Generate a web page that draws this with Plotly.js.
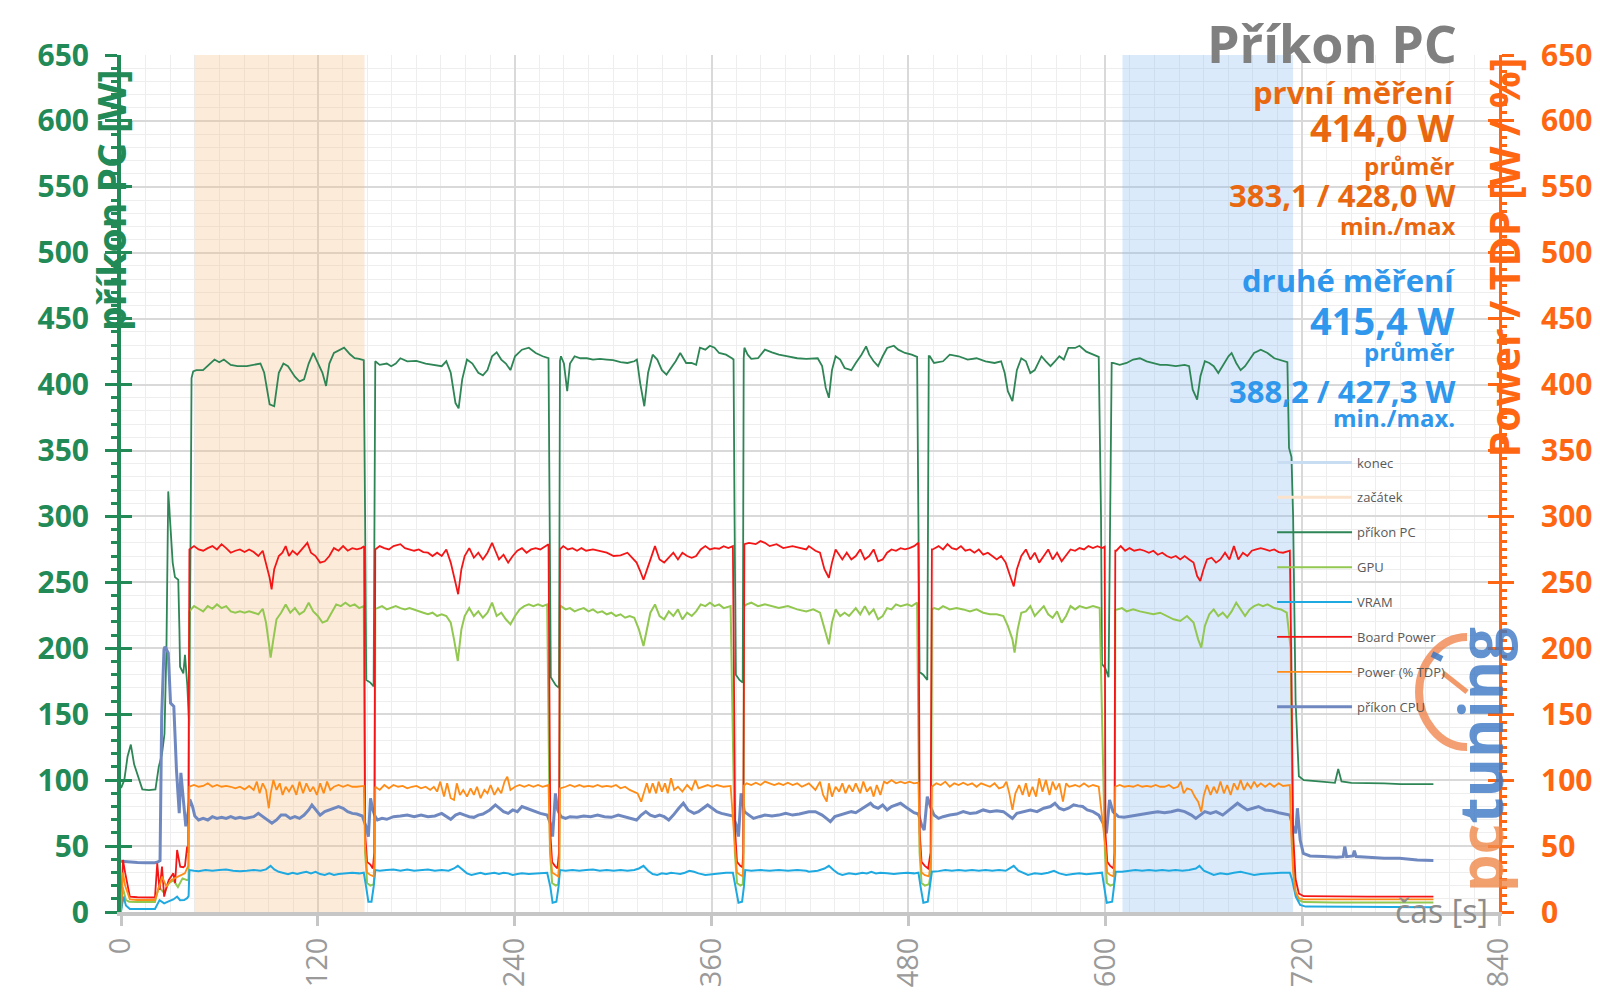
<!DOCTYPE html>
<html>
<head>
<meta charset="utf-8">
<script src="https://cdn.plot.ly/plotly-3.0.1.min.js"></script>
<style>
  body { margin: 0; background: #fff; }
  #chart { width: 1600px; height: 1008px; }
</style>
</head>
<body>
<div id="chart"></div>
<script>
// axis ranges / ticks
var xRange = [0, 840];
var yRange = [0, 650];

// shaded measurement windows [start, end] in s
var zacatek = [45, 148.5];
var konec = [610.5, 714.5];

// series as [time s, value W]
var prikonPC = [[0,94],[2,100],[4,118],[6,127],[8,112],[11,100],[13,93],[17,92.5],[21,93],[23,110],[25,120],[26.5,135],[27.7,200],[28.8,319],[30.2,290],[31.5,265],[32.9,254],[34.9,252],[35.6,215],[36,186],[38,181],[39,195],[40.4,172],[41.6,141],[42.5,300],[43,405],[44,410],[45.9,411],[50,411],[54.3,416],[57,419],[59.9,417],[62.7,419],[66.9,415],[71,414],[76.7,414],[85,416],[87.3,409],[90.6,385],[93.4,383.6],[96.2,409],[99,416],[101.8,414],[106,406],[108.8,402.5],[111.6,404],[114.4,416],[117.2,424],[120,416],[122.8,409],[125,399],[127,416],[129.8,424],[132.6,426],[136,428],[139.6,423],[142.4,420],[145.2,419.5],[148,418.5],
  [148.8,300],[149.5,176],[152,174],[154,171],[155,417.7],
  [157.7,415],[162,416],[164.7,414],[167.5,416],[170.3,420],[174.5,417.7],[180,418],[185.7,416],[191.3,415],[195.5,414],[198.3,417.7],[201,409],[203.9,386],[205.8,382],[208,404],[210.9,419],[214.2,416],[217.8,409],[220.6,407],[223.4,411],[226.2,421.5],[229,424.5],[231.8,419],[234.6,416],[237.4,411],[240.2,421.5],[244.4,426.5],[248.6,428],[252.8,424],[257,421.5],[260.6,420],
  [261.3,300],[262,178],[265,172],[267,170],[267.6,418],
  [268.2,421.5],[270,416],[272,395],[273.7,416],[276.5,421.5],[280,420],[284,420],[287.7,419],[292,419.5],[296,419],[300,418.5],[304.5,417],[308.7,416.4],[312.9,417.7],[314.5,419],[316.5,401],[319,383.6],[321.3,409],[324.1,422.7],[326.9,419],[329.7,411],[332.5,407.6],[335.3,412.6],[338.1,417.7],[340.9,424],[344.5,416.4],[347.8,416.4],[350.6,415],[352.9,428],[356.2,426.5],[359,429.5],[361.8,428],[364.6,424],[368.8,422.7],[372.4,420],[373.4,419],
  [374,300],[374.8,180],[377,176],[379,174],[379.6,420],
  [380,428],[382,422.7],[384.2,419.5],[388.3,420],[392.5,426.5],[396.8,424.5],[401,422.7],[406.5,421.5],[412.2,420],[417.7,419.5],[421,420],[424.7,420],[427.4,414],[429.6,397.5],[431.5,390],[433.4,411],[435.6,421.5],[438.4,419],[441.1,412.6],[445.2,411],[447.9,416.4],[451.4,422.7],[454.2,429],[456.1,422.7],[458.8,417.7],[461.5,414],[464.3,421.5],[467,427.8],[471.1,429.5],[473.8,426.5],[477.9,424],[482,422.7],[485.3,421],
  [486.1,300],[486.8,182],[489,180],[491.5,176],[492.4,421.5],
  [493,421.5],[495.6,416.4],[501.1,417.7],[505.2,422.7],[510.6,421.5],[516.1,419],[521.5,420],[527,417.7],[532.5,416.4],[536.5,417.7],[538.7,408.8],[540.6,395],[543.4,387.4],[546.1,411],[548.8,420],[551.6,417.7],[554.3,408.8],[557,411],[561.1,421.5],[563.8,417.7],[566.6,414],[569.3,417.7],[572,421.5],[574.7,419],[577.5,427.8],[581.6,427.8],[584.3,429.5],[588.4,425],[592.5,422.7],[596,421],
  [597.4,300],[598,188],[600,185],[602,178],[603.9,416.4],
  [604.7,416.4],[608.8,415],[613,416.4],[617,419],[621.1,420],[625.2,417.7],[629.3,416.4],[633.4,415],[637.5,415],[643,414],[648.4,415],[651.1,414],[653.3,396.2],[656,388.6],[658,406.3],[660.7,417.7],[663.4,416.4],[666.1,414],[668.9,408.8],[671.6,414],[675.1,421.5],[677,424],[679.8,416.4],[682.5,411],[685.2,414],[688,419],[690.7,424],[694.8,426.5],[698.9,424],[703,420],[707.1,418.4],[709.8,417.7],
  [711,417],[712,352],[713.5,345],[714.5,300],[716,160],[718,103],[721,100],[730,99],[740,98],[742,108.5],[744,99],[750,98],[760,98],[770,97.5],[780,97],[790,97],[800,97]];

var gpu = [[0,0],[1,19],[3,9],[5,7.8],[10,7.5],[20.7,7.5],[23,19],[26.3,14.4],[29,21.7],[31.9,24.2],[34.7,19],[37.5,25.5],[40.3,24.2],[41.2,25],
  [41.7,228],[44.5,232],[47.3,230],[50.1,228],[52.9,232],[55.7,230],[58.5,233.3],[61.3,230.5],[64.1,232],[66.9,228],[69.7,227],[72.5,228],[75.3,227],[78.1,228],[80.9,227],[83.7,225.8],[86.4,230],[88.4,219.5],[90.1,204],[91.2,193],[92.9,207],[94.8,222],[97.6,227],[100.4,233.3],[103.2,227],[106,230.5],[108.8,225.8],[111.6,228],[114.4,234.6],[117.2,228],[120,224.5],[122.8,219.5],[125.6,221],[128.4,227],[131.2,233.3],[134,232],[136.8,234.6],[139.6,232],[142.4,233.3],[145.2,230.5],[148,232],
  [148.8,45],[150,22],[152,20],[154,21],[154.6,30],[155,230],
  [156.3,230.5],[159.1,232],[162,229.5],[164.7,230.5],[167.5,232],[170.3,230.5],[173.1,229.5],[175.9,230.5],[178.7,229.5],[181.5,228],[184.3,227],[187.1,225.8],[189.9,227],[192.7,224.5],[195.5,225.8],[198.3,224.5],[201,219.5],[203,206.8],[205.3,190.4],[207.5,214.4],[209.5,224.5],[212.3,230.5],[215.1,224.5],[217.8,228],[220.6,223.2],[223.4,227],[226.2,234.6],[229,224.5],[231.8,227],[234.6,222],[237.4,218.2],[240.2,224.5],[243,229.5],[245.8,232],[248.6,233.3],[251.4,232],[254.2,233.3],[257,232],[259.8,233.3],
  [261.5,45],[262.8,22],[265,20],[266.5,21],[267.2,30],[267.6,231],
  [268.2,232],[271,229.5],[273.7,230.5],[276.5,228],[279.4,229.5],[282.1,230.5],[285,228],[287.7,229.5],[290.5,227],[293.3,228],[296.1,225.8],[298.9,227],[301.7,224.5],[304.5,225.8],[307.3,223.2],[310.1,224.5],[312.9,223.2],[315.7,214.4],[318.5,201.8],[320.5,214.4],[322.7,227],[325.5,233.3],[328.3,224.5],[331.1,222],[333.9,228],[336.7,224.5],[339.5,229.5],[342.2,222],[345.1,227],[347.9,224.5],[350.6,228],[353.4,233.3],[356.2,232],[359,234.6],[361.8,232],[364.6,233.3],[367.4,230.5],[371.6,232],
  [374.2,45],[375.5,22],[377.5,20],[379,21],[379.4,30],[379.8,232],
  [381.4,233.3],[384.2,234.6],[388.3,232],[392.5,233.3],[396.8,232],[401,230.5],[406.5,232],[412.2,229.5],[417.7,228],[422,229.5],[426.1,227],[428.8,214.4],[431.5,203],[433.4,219.5],[435.6,229.5],[438.4,224.5],[441.1,227],[443.8,224.5],[447.9,230.5],[450.6,225.8],[453.4,232],[456.1,225.8],[458.8,229.5],[461.5,222],[464.3,224.5],[467,230.5],[469.7,229.5],[472.4,233.3],[475.2,232],[479.3,233.3],[482,232],[485.3,234.6],
  [486.8,45],[488,22],[490,20],[492.5,21],[493.8,30],[494.3,229.5],
  [495.6,230.5],[498.4,229.5],[501.1,232],[505.2,229.5],[509.3,230.5],[513.4,229.5],[517.5,228],[521.5,229.5],[525.6,227],[529.7,225.8],[533.8,225.8],[537.9,224.5],[540.6,217],[543.4,206.8],[544.7,196.7],[546.6,214.4],[548.8,227],[551.6,228],[554.3,232],[557,224.5],[559.7,228],[562.5,232],[565.2,225.8],[567.9,223.2],[570.6,228],[573.4,219.5],[576.1,224.5],[578.8,232],[581.6,229.5],[584.3,232],[588.4,230.5],[592.5,232],[596.6,230.5],
  [599.8,45],[601,22],[603,20],[605.3,21],[605.8,30],[606.1,229],
  [607.5,229.5],[610.2,230.5],[613,228],[617,229.5],[621.1,228],[625.2,227],[629.3,225.8],[633.4,227],[637.5,224.5],[641.6,222],[645.7,220.7],[649.8,224.5],[653.8,219.5],[656.6,206.8],[658.5,200.5],[660.7,217],[663.4,225.8],[666.1,229.5],[668.9,224.5],[671.6,227],[674.3,223.2],[677,228],[679.8,234.6],[682.5,229.5],[685.2,224.5],[688,229.5],[690.7,232],[693.4,233.3],[696.1,232],[698.9,233.3],[703,230.5],[707.1,229.5],[710.6,227],
  [713,200],[714.5,40],[716,15],[718,9],[721,7.5],[740,7.3],[800,7.3]];

var vram = [[0,0.5],[1.5,11.7],[3,5],[5.4,2.3],[10,2.3],[20.7,2.3],[23.5,9],[26.3,6.5],[29,8],[31.9,9.5],[34.2,11.7],[36,9],[38.5,9.1],[40.3,10.5],[41.2,12],
  [41.7,31.8],[44.5,31.3],[47.3,31],[51.5,31.8],[55.7,31.3],[59.9,31.8],[64.1,32.3],[68.3,31.3],[72.5,31],[76.7,31.3],[80.9,31.8],[85.1,31.3],[88.4,32.3],[91.2,35],[93.4,32.3],[96.2,30.5],[99,29.3],[101.8,28.6],[104.6,29.8],[107.4,28.8],[110.2,29.8],[113,30.5],[115.8,29.3],[118.6,30.5],[121.4,28.8],[124.2,28.1],[127,29.3],[129.8,28.1],[132.6,28.8],[136.8,29.3],[141,29.8],[145.2,29.3],[148,29.8],
  [149.4,19.2],[150.8,7.8],[152.7,7.8],[154,19],[155,31.8],
  [157.7,31.3],[161.9,31.8],[166.1,32.3],[170.3,31.3],[174.5,32.3],[178.7,31.3],[182.9,31.8],[187.1,32.3],[191.3,31.3],[195.5,31.8],[199.7,31.3],[203,33],[205.3,35],[208.1,31.8],[210.9,29.3],[213.6,28.1],[216.4,28.8],[219.2,29.8],[222,28.6],[224.8,29.3],[227.6,29.8],[230.4,28.8],[233.2,29.8],[236,29.3],[238.8,28.1],[241.6,28.8],[244.4,29.3],[248.6,28.8],[252.8,29.3],[257,29.8],[259.8,29.8],
  [261.7,19.2],[263.1,7],[265.4,7.8],[266.7,19],[267.6,31.8],
  [271,31.3],[275.2,31.8],[279.4,31.3],[283.5,31.8],[287.7,32.3],[291.9,31.3],[296.1,31.8],[300.3,31.3],[304.5,31.8],[308.7,31.3],[312.9,31.8],[315.7,33],[318.5,35],[321.3,31.3],[324.1,28.8],[326.9,28.1],[329.7,29.3],[332.5,28.8],[335.3,29.8],[338.1,29.3],[340.9,28.8],[343.7,29.8],[346.5,31.3],[349.3,30.5],[352,29.3],[356.2,28.1],[360.4,28.8],[364.6,29.3],[368.8,29.8],[373,29.8],
  [374.6,19.2],[376.4,7],[378.6,7.8],[379.7,19],[380.5,31.8],
  [384.2,31.3],[389.8,31.8],[395.4,31.3],[401,31.8],[406.6,31.3],[412.2,31.8],[417.7,31.3],[419.3,30.5],[424.7,31.3],[428.8,33],[431.5,35],[434.3,31.8],[437,29.3],[439.7,28.1],[443.8,29.3],[447.9,28.6],[451.9,29.8],[454.7,29.3],[457.4,30.5],[460.2,29.3],[462.9,29.8],[467,29.3],[471.1,28.8],[475.2,29.3],[479.3,29.8],[483.4,29.3],[486.1,29.8],
  [487.4,19.2],[489.1,7],[491.8,7.8],[492.9,19],[494.3,30.5],
  [498.4,31],[502.5,31.8],[506.5,31.3],[510.6,31.8],[514.7,31.3],[518.8,31.8],[522.9,31.3],[527,31.8],[531.1,31.3],[535.2,31.8],[539.3,31.3],[542,33],[544.2,35],[547,31.3],[550.2,29.3],[552.9,28.1],[557,29.3],[561.1,28.8],[565.2,29.8],[568.7,31.3],[572,29.3],[576.1,28.1],[580.2,28.8],[584.3,29.3],[588.4,28.6],[592.5,29.3],[598,29.8],
  [599.3,19.2],[600.9,7],[604.2,7.8],[605.3,19],[606.4,30.5],
  [610.2,30.5],[614.3,31.3],[618.4,31.8],[622.5,31.3],[626.6,31.8],[630.7,31.3],[634.7,31.8],[638.8,31.3],[642.9,31.8],[647,31.3],[651.1,31.8],[655.2,33],[657.4,35],[660.1,31.3],[663.4,29.3],[666.1,28.1],[670.2,29.3],[674.3,28.6],[678.4,29.8],[682.5,30.5],[686.6,29.3],[690.7,28.1],[694.8,28.8],[698.9,29.3],[703,29.3],[707.1,29.8],[712.5,29.8],
  [713.9,24.5],[716.1,11.7],[718.8,5.4],[722.1,4.1],[760,4.1],[800,3.6]];

var boardPower = [[0,1],[1.2,39.5],[2.5,30],[5.4,11.7],[10,11.2],[15,11],[20.7,11],[22.1,37],[23.5,16.7],[25,34.4],[26.3,11.7],[28,20],[29.1,24.2],[31.9,29.3],[33,22],[34.2,47],[36.1,34.4],[38,34],[39,35],[40.3,49.6],[41,45],
  [41.7,275],[44.5,277.5],[47.3,275],[50.1,274],[52.9,276],[55.7,277.5],[58.5,275],[61.3,279],[64.1,276],[66.9,272.5],[69.7,274],[72.5,275],[75.3,273],[78.1,275],[80.9,273],[83.7,270],[86.4,274],[88.4,265],[90.6,253.5],[91.8,244.7],[93.4,260],[96.2,270],[98.4,272.5],[100.4,277.5],[102.4,270],[104.6,274],[107.4,271],[110.2,275],[113.6,280],[115.8,272.5],[118.6,270],[121.4,265],[124.2,266],[127,270],[129.8,276],[132.6,274],[135.4,277.5],[138.2,274],[141,276],[143.8,275],[146.5,276],[148.2,277.5],
  [148.8,60],[150,38],[152,36],[153.5,33],[154.4,45],[155,275],
  [157.7,277.5],[160.5,276],[163.3,275],[166.1,277.5],[170.3,279],[173.1,276],[175.9,275],[178.7,274],[181.5,275],[184.3,273],[187.1,272.5],[189.9,270],[192.7,272.5],[195.5,270],[198.3,275],[201,265],[203.9,249.7],[205.5,241],[207.5,260],[209.5,270],[212.3,276],[215.1,268.7],[217.8,272.5],[220.6,267.4],[223.4,272.5],[226.2,280],[228.2,274],[230.4,267.4],[233.2,271],[236,265],[238.8,270],[241.6,274],[244.4,276],[247.2,272.5],[250,275],[252.8,276],[255.6,275],[258.4,277.5],[260.6,279],
  [261.7,60],[262.8,38],[264.5,35],[266,33],[267,45],[267.6,275],
  [269.6,277.5],[272.4,275],[275.2,276],[278,274],[280.7,276],[283.5,274],[287.7,275],[291.9,274],[296.1,272.5],[300.3,270],[304.5,270.5],[308.7,272.5],[311.5,268.7],[314.3,265],[316.5,258.6],[318.5,252],[319.9,257],[322.7,267.4],[325.5,277.5],[328.3,267.4],[331.1,265],[333.9,268.7],[336.7,272.5],[339.5,267.4],[342.2,272.5],[345.1,270],[347.9,268.7],[350.6,270],[353.4,275],[356.2,277.5],[359,275],[361.8,276],[364.6,275.5],[367.4,277.5],[370.2,276],[373,277.5],
  [374.4,60],[375.5,38],[377.5,35],[378.8,34],[379.3,45],[380,279],
  [382.8,280],[386.9,279],[389.8,281.3],[392.5,280],[395.4,277.5],[399.6,279],[403.7,276],[409.3,277.5],[413.5,276],[417.7,275],[419.3,277.5],[423.3,274],[426.1,272.5],[428.8,260],[431.5,253.5],[433.4,265],[435.6,275],[437.8,271],[439.7,267.4],[442.4,272.5],[445.2,267.4],[447.9,270],[450.6,275],[453.4,267.4],[456.1,270],[458.8,275],[461.5,266],[464.3,267.4],[467,272.5],[469.7,275],[472.4,274],[475.2,276],[477.9,275],[480.6,276],[483.4,277.5],[486.1,280],
  [486.9,60],[488,38],[490,35],[492,33],[493.5,45],[494.3,275],
  [494.8,275],[498.4,277.5],[501.1,275],[503.8,279],[506.5,276],[509.3,275],[512,277.5],[514.7,274],[517.5,275],[520.2,272.5],[522.9,275],[525.6,271],[528.4,272.5],[531.1,270],[533.8,267.4],[536.5,270],[539.3,265],[542,254.8],[544.2,247],[546.1,260],[548.8,270],[551.6,275],[554.3,267.4],[557,272.5],[559.7,265],[562.5,270],[565.2,275],[567.9,267.4],[570.6,272.5],[573.4,266],[576.1,271],[578.8,275],[581.6,274],[584.3,276],[587,275],[589.7,277.5],[592.5,276],[595.2,277.5],[598,276],[599.6,277],
  [600.1,60],[601.2,38],[603,35],[605,33],[605.6,45],[606.1,274],
  [606.7,274],[609.4,277.5],[612.1,274],[614.8,276],[617.6,274],[621.1,275],[623.8,274],[626.6,272.5],[629.3,274],[632,271],[634.7,272.5],[637.5,270],[640.2,268.7],[643,270],[645.7,267.4],[648.4,270],[651.1,267.4],[653.8,265],[656,254.8],[657.9,251],[659.9,260],[662,267.4],[664.8,268.7],[667.5,265],[670.2,267.4],[673,272.5],[675.7,267.4],[678.4,277.5],[681.1,267.4],[683.9,272.5],[686.6,270],[689.3,274],[692,275],[694.8,276],[697.5,275],[700.2,274],[703,275],[705.7,273],[708.4,272.5],[712.5,274],
  [713.3,200],[714.5,60],[716,25],[718,14],[721,12],[730,11.8],[760,11.7],[800,11.7]];

var powerTDP = [[0,0.5],[1.2,30],[2.5,20],[5.4,9.6],[10,9.1],[20.7,9.1],[23.5,20],[25,26.8],[27.7,19.2],[30.5,24.2],[34.7,26.8],[38.9,29.3],[41,35],
  [41.7,95],[44.5,96.3],[47.3,95],[50.1,95.6],[52.9,97.6],[55.7,95],[58.5,96.3],[61.3,95],[64.1,95.6],[66.9,95],[69.7,93.8],[72.5,95],[75.3,93],[78.1,95.6],[80.9,92.6],[82.8,98.9],[84.5,90],[86.4,97.6],[88.4,92.6],[90.1,78.7],[91.2,90],[92.9,100.1],[94.8,92.6],[96.8,97.6],[98.5,88.8],[100.4,95],[102.4,91.3],[104.6,96.3],[106.9,88.8],[108.8,98.9],[111,90],[113,97.6],[115.3,91.3],[117.2,95],[119.4,88.8],[121.4,97.6],[123.6,90],[125.6,98.9],[127.6,92.6],[129.8,95],[132.6,96.3],[135.4,95],[138.2,96.3],[141,95],[143.8,95],[148,95.6],
  [148.8,50],[150,30],[152,28],[154,27],[154.6,40],[155,95],
  [157.7,92.6],[160.5,96.3],[163.3,93.8],[166.1,96.3],[168.9,95],[171.7,95.6],[174.5,93.8],[177.3,95],[180.1,95.6],[182.9,93.8],[185.7,95],[188.5,92.6],[190.7,95],[192.7,91.3],[194.6,98.9],[196.9,87.5],[198.8,97.6],[201,86.3],[203,85],[204.7,97.6],[206.6,88.8],[208.6,92.6],[210.9,87.5],[213.1,93.8],[215.1,88.8],[217,95],[219.2,86.3],[221.5,92.6],[223.4,90],[225.3,96.3],[227.6,88.8],[229.8,93.8],[231.8,90],[233.8,98.9],[235.5,102.6],[237.4,92.6],[240.2,95],[243,96.3],[245.8,95],[248.6,96.3],[251.4,95],[254.2,96.3],[257,95],[260.6,96.3],
  [261.5,50],[262.8,30],[265,28],[266.5,27],[267.2,40],[267.6,93.8],
  [271,95],[273.7,96.3],[276.5,95],[279.4,96.3],[282.1,95],[285,95.6],[287.7,95],[290.5,96.3],[293.3,95],[296.1,95.6],[298.9,95],[301.7,96.3],[304.5,93.8],[307.3,95],[310.1,92.6],[312.9,91.3],[314.9,90],[317.1,83.7],[319,91.3],[320.5,97.6],[322.2,90],[324.1,97.6],[326.2,90],[327.7,98.9],[329.7,91.3],[331.6,97.6],[333.3,90],[335.3,101.4],[337.2,92.6],[339.5,95],[342.2,91.3],[345.1,96.3],[347.9,92.6],[350.1,100.1],[352,93.8],[354.8,95],[357.6,96.3],[360.4,95],[363.2,96.3],[367.4,95],[371.6,95.6],
  [374.2,50],[375.5,30],[377.5,28],[379,27],[379.4,40],[379.8,96],
  [381.4,97.6],[384.2,96.3],[387,98.1],[389.8,96.3],[392.5,98.9],[395.4,97.6],[398.2,96.3],[401,97.6],[403.7,96.3],[406.5,98.1],[409.4,96.3],[412.2,97.6],[415,95],[419.3,97.6],[423.3,92.6],[426.1,98.9],[428,88.8],[430.2,83.7],[431.5,97.6],[433.4,87.5],[435.6,95],[437.8,91.3],[439.7,97.6],[441.6,90],[443.8,96.3],[446,91.3],[447.9,97.6],[450.6,90],[452.5,98.9],[454.7,91.3],[456.9,95],[458.8,87.5],[460.7,96.3],[462.9,88.8],[465.1,98.9],[467,97.6],[469.7,100.1],[472.4,97.6],[475.2,98.9],[477.9,97.6],[480.6,98.9],[483.4,97.6],[486.1,98.1],
  [486.9,50],[488,30],[490,28],[492.5,27],[493.8,40],[494.3,95],
  [497,97.6],[499.7,96.3],[502.5,98.9],[505.2,95],[507.9,97.6],[510.6,96.3],[513.4,98.1],[516.1,96.3],[518.8,97.6],[521.5,95],[524.3,97.6],[527,96.3],[529.7,95],[532.5,97.6],[535.2,93.8],[537.9,95],[539.7,98.9],[541.5,90],[543.4,77.4],[545.2,90],[547.5,96.3],[549.6,88.8],[551.6,97.6],[553.5,87.5],[555.6,95],[557.8,87.5],[559.7,101.4],[561.7,91.3],[563.8,100.1],[566,88.8],[567.9,98.9],[569.8,92.6],[572,97.6],[574.2,83.7],[576.1,97.6],[578,95],[581.6,96.3],[584.3,95],[587,97.6],[589.8,95],[592.5,96.3],[596,95],
  [600,50],[601.2,30],[603,28],[605,27],[605.6,40],[606.1,95],
  [608.8,96.3],[611.6,95],[614.3,95.6],[617,95],[619.8,96.3],[622.5,95],[625.2,95.6],[627.9,95],[630.7,96.3],[633.4,95],[636.1,95],[638.8,96.3],[641.6,93.8],[644.3,95],[646,98.9],[647.8,90],[649.9,93.8],[652.5,92.6],[654.5,87.5],[656.6,83.7],[658.5,76.1],[660.1,88.8],[662,96.3],[664.2,88.8],[666.1,95],[668.1,90],[670.2,98.9],[672.3,90],[674.3,96.3],[676.4,88.8],[678.4,97.6],[680.6,92.6],[682.5,100.1],[684.5,92.6],[686.6,97.6],[688.8,93.8],[690.7,98.9],[692.6,95],[694.8,97.6],[697.5,95],[700.2,97.6],[702.9,95],[705.7,97.6],[708.4,95.6],[712.5,96.3],
  [713.3,60],[714.5,30],[716,15],[718,10.5],[721,9.6],[760,9.6],[800,9.6]];

var prikonCPU = [[0,38.4],[3,38],[10,37.5],[15,37.4],[20.7,37.4],[22.5,38],[23.8,38.9],[24.8,148],[26.2,199],[26.8,201.3],[28.8,196.5],[30.2,158.5],[32.2,156],[33.8,108],[35.5,75],[36.5,105.6],[37.9,85.4],[39.5,65],[40.9,75],[41.9,85.4],[43.6,80],[45,72.8],[47.3,69.8],[50.1,71],[52.9,69.8],[55.7,72.3],[58.5,71],[61.3,71.8],[64.1,71],[66.9,72.3],[69.7,71],[72.5,71.8],[75.3,71],[78.1,71.8],[80.9,72.3],[83.7,74.8],[86.4,72.3],[89.2,69.8],[92,67.3],[94.8,69.8],[97.6,73.5],[100.4,73.5],[103.2,71],[106,72.3],[108.8,71],[111.6,73.5],[114.4,77.4],[116.4,81.2],[118.6,77.4],[121.4,73.5],[124.2,76.1],[127,77.4],[129.8,78.7],[132.6,80],[135.4,78.7],[138.2,76.1],[141,74.8],[143.8,74.3],[147.1,72.8],
  [149.4,64.7],[150.8,57.2],[152.1,86.2],[153.5,77.4],[155,72.3],
  [156.3,69.8],[159.1,71],[162,70.3],[166.1,72.3],[170.3,72.8],[174.5,73.5],[178.7,72.3],[182.9,73.5],[187.1,72.3],[191.3,72.8],[195.5,74.8],[198.3,72.3],[201,70.3],[203.9,73.5],[206.6,74.8],[209.5,73.5],[212.3,72.3],[215.1,71.8],[217.8,73.5],[220.6,74.3],[224.8,77.4],[228.2,81.2],[230.4,78.7],[233.2,76.1],[236,74.8],[238.8,77.4],[241.6,76.1],[244.4,80],[247.2,78.7],[250,77.4],[252.8,76.1],[255.6,74.8],[259.8,73.5],
  [261.7,67.3],[263.1,57.2],[264.8,90],[266.2,77.4],[268.2,72.3],
  [271,71],[273.7,72.3],[278,71.8],[282.1,72.8],[286.3,72.3],[290.5,73.5],[294.7,72.3],[298.9,71.8],[303.1,73.5],[307.3,72.3],[311.5,71],[314.3,69.8],[317.1,73.5],[319.9,76.1],[322.7,73.5],[325.5,72.3],[328.3,73.5],[331.1,72.3],[333.9,69.8],[336.7,73.5],[340,78.7],[342.8,82.5],[345.6,77.4],[349.3,74.8],[352,76.1],[354.8,78.7],[357.6,81.2],[360.4,78.7],[363.2,76.1],[366,74.8],[370.2,73.5],[373,72.8],
  [375,66],[376.4,57.2],[378,90],[380,76.1],
  [382.8,73.5],[385.6,71],[389,72.3],[392.5,73.5],[396.8,72.8],[401,73.5],[405.2,74.8],[409.4,73.5],[413.5,74.3],[417.7,75.3],[419.3,76.1],[423.3,76.1],[427.4,73.5],[430,71],[432.4,68.5],[435.1,72.3],[438.4,73.5],[441.1,74.8],[445.2,76.1],[447.9,75.3],[452,78.7],[454.7,81.2],[456.9,82.5],[458.8,80],[461.5,78.7],[464.3,81.2],[467,77.4],[469.7,80],[472.4,81.2],[475.2,82.5],[477.9,80],[480.6,77.4],[483.4,75.3],[486.1,74.3],
  [488,66],[489.6,62.2],[491.5,87.5],[493.4,80],[495.6,73.5],
  [498.4,71],[501.1,72.3],[505.2,73.5],[509.3,74.3],[513.4,76.1],[517.5,74.8],[521.5,75.3],[525.6,77.4],[529.7,76.1],[533.8,76.8],[537.9,76.1],[540.6,73.5],[543.4,71],[546.1,74.8],[550.2,76.1],[554.3,77.4],[558.4,76.1],[562.5,78.7],[566.6,80],[569.3,82.5],[572,78.7],[574.7,77.4],[577.5,78.7],[580.7,81.2],[583.4,80.5],[586.2,80],[589,77.4],[592.5,76.1],[596,73.5],
  [598.7,67.3],[600.7,59.7],[602.6,85],[604.7,76.1],[608,72.3],
  [611.5,71.8],[615.7,72.8],[619.8,73.5],[623.8,74.8],[627.9,75.3],[632,76.1],[636.1,75.3],[640.2,76.1],[644.3,77.4],[648.4,76.1],[652.5,73.5],[655.2,71],[657.9,73.5],[660.7,76.1],[664.1,74.8],[667.5,76.1],[671.6,73.5],[674.3,76.1],[677.8,80],[680.6,82.5],[683.4,80],[686.6,77.4],[690,78.7],[693.4,80],[697.5,77.4],[701.6,76.8],[705.7,75.3],[709.8,74.3],[712.5,73.5],
  [714.4,64.7],[716.1,59.7],[717.1,78.7],[718.8,54.6],[720.7,44.5],[724.8,42.5],[733,42],[741.1,41.5],[745,42],[746,49.6],[747.1,42],[751,42.5],[751.8,46.5],[752.9,42],[760.2,41.5],[770,40.8],[779.3,40.8],[790.2,39.5],[800,39]];

var GREEN = '#218a57';
var ORANGE = '#ff6611';
var ORANGE_TXT = '#e9680f';
var BLUE_TXT = '#2f97ec';
var FONT = 'Open Sans, sans-serif';

function line_trace(name, pts, color, width, axis) {
	return {
		type: 'scatter', mode: 'lines', name: name,
		x: pts.map(p => p[0]), y: pts.map(p => p[1]),
		yaxis: axis, legendgroup: name,
		line: {color: color, width: width}, hoverinfo: 'skip'
	};
}

function band_trace(span, fill) {
	return {
		type: 'scatter', mode: 'lines',
		x: [span[0], span[0], span[1], span[1]],
		y: [yRange[0], yRange[1], yRange[1], yRange[0]],
		fill: 'toself', fillcolor: fill, line: {width: 0},
		showlegend: false, hoverinfo: 'skip'
	};
}

// legend-only entries for the shaded windows
function key_trace(name, span, color, axis) {
	return {
		type: 'scatter', mode: 'lines', name: name,
		x: [span[0]], y: [0], yaxis: axis, legendgroup: name,
		line: {color: color, width: 3}, hoverinfo: 'skip'
	};
}

var traces = [
	key_trace('konec', konec, '#c9ddf2', 'y3'),
	key_trace('začátek', zacatek, '#fbe2cb', 'y4'),
	band_trace(zacatek, 'rgba(248,188,132,0.30)'),
	band_trace(konec, 'rgba(132,185,238,0.30)'),
	line_trace('příkon PC', prikonPC, '#2e8555', 1.8, 'y'),
	line_trace('GPU', gpu, '#92c750', 2, 'y2'),
	line_trace('VRAM', vram, '#1fa9e1', 2, 'y2'),
	line_trace('Board Power', boardPower, '#f41616', 1.8, 'y2'),
	line_trace('Power (% TDP)', powerTDP, '#ff8c16', 1.8, 'y2'),
	line_trace('příkon CPU', prikonCPU, '#6f89c0', 3, 'y')
];

function note(text, y, size, color) {
	return {
		text: text, xref: 'paper', yref: 'paper', x: 0.9695, y: y,
		xanchor: 'right', yanchor: 'middle', showarrow: false,
		font: {family: FONT, size: size, color: color, weight: 700}
	};
}

// pctuning watermark gauge, drawn in pixels round its centre
function logo_shape(path, color, width) {
	return {
		type: 'path', xref: 'paper', yref: 'paper',
		xsizemode: 'pixel', ysizemode: 'pixel',
		xanchor: 0.9768, yanchor: 0.2567,
		path: path, line: {color: color, width: width}
	};
}

var layout = {
	width: 1600,
	height: 1008,
	margin: {l: 121, r: 101, t: 55, b: 96},
	paper_bgcolor: '#ffffff',
	plot_bgcolor: '#ffffff',
	title: {
		text: 'Příkon PC',
		x: 0.9695, xref: 'paper', xanchor: 'right',
		y: 1 - 45 / 1008, yref: 'container', yanchor: 'middle',
		font: {family: FONT, size: 52, color: '#808080', weight: 700}
	},
	showlegend: true,
	legend: {
		x: 0.8353, y: 0.542, xanchor: 'left', yanchor: 'top',
		itemwidth: 75,
		bgcolor: 'rgba(0,0,0,0)', traceorder: 'grouped', tracegroupgap: 15,
		font: {family: FONT, size: 13, color: '#595959'}
	},
	xaxis: {
		range: xRange, tick0: 0, dtick: 120, zeroline: false,
		showgrid: true, gridcolor: '#d9d9d9', gridwidth: 2,
		minor: {dtick: 15, showgrid: true, gridcolor: '#eeeeee', gridwidth: 1},
		showline: true, linecolor: '#c6c6c6', linewidth: 4,
		ticks: 'outside', ticklen: 10, tickwidth: 3, tickcolor: '#c6c6c6',
		tickangle: -90, ticklabelstandoff: 0,
		tickfont: {family: FONT, size: 29, color: '#9a9a9a'}
	},
	yaxis: {
		range: yRange, tick0: 0, dtick: 50, zeroline: false,
		showgrid: true, gridcolor: '#d9d9d9', gridwidth: 2,
		minor: {dtick: 10, showgrid: true, gridcolor: '#eeeeee', gridwidth: 1,
			ticks: 'outside', ticklen: 6, tickwidth: 3, tickcolor: GREEN},
		showline: true, linecolor: GREEN, linewidth: 4,
		ticks: 'outside', ticklen: 12, tickwidth: 3, tickcolor: GREEN,
		ticklabelstandoff: 10,
		tickfont: {family: FONT, size: 30, color: GREEN, weight: 700}
	},
	yaxis2: {
		range: yRange, tick0: 0, dtick: 50, overlaying: 'y', side: 'right',
		showgrid: false, zeroline: false,
		showline: true, linecolor: ORANGE, linewidth: 3,
		ticks: 'outside', ticklen: 12, tickwidth: 3, tickcolor: ORANGE,
		minor: {dtick: 6.25, ticks: 'outside', ticklen: 5, tickwidth: 3, tickcolor: ORANGE},
		ticklabelstandoff: 21,
		tickfont: {family: FONT, size: 30, color: ORANGE, weight: 700}
	},
	// inner halves of the crossing major ticks
	yaxis3: {
		range: yRange, dtick: 50, overlaying: 'y', side: 'left',
		showgrid: false, zeroline: false, showline: false, showticklabels: false,
		ticks: 'inside', ticklen: 11, tickwidth: 3, tickcolor: GREEN
	},
	yaxis4: {
		range: yRange, dtick: 50, overlaying: 'y', side: 'right',
		showgrid: false, zeroline: false, showline: false, showticklabels: false,
		ticks: 'inside', ticklen: 11, tickwidth: 3, tickcolor: ORANGE
	},
	shapes: [
		logo_shape('M 0,55 C -27.6,55 -48,27.6 -48,0 C -48,-27.6 -27.6,-55 0,-55', 'rgba(240,135,80,0.80)', 8),
		logo_shape('M -24,19 L 0,0', 'rgba(240,135,80,0.85)', 5),
		logo_shape('M -35,38 L -25,33', 'rgba(59,120,196,0.85)', 6)
	],
	annotations: [
		note('první měření', 0.9568, 31, ORANGE_TXT),
		note('414,0 W', 0.9165, 38, ORANGE_TXT),
		note('průměr', 0.8705, 24, ORANGE_TXT),
		note('383,1 / 428,0 W', 0.8370, 31, ORANGE_TXT),
		note('min./max', 0.8010, 24, ORANGE_TXT),
		note('druhé měření', 0.7375, 31, BLUE_TXT),
		note('415,4 W', 0.6912, 38, BLUE_TXT),
		note('průměr', 0.6535, 24, BLUE_TXT),
		note('388,2 / 427,3 W', 0.6075, 31, BLUE_TXT),
		note('min./max.', 0.5775, 24, BLUE_TXT),
		{
			text: 'příkon PC [W]', xref: 'paper', yref: 'paper', x: -0.008, y: 0.8308,
			xanchor: 'center', yanchor: 'middle', textangle: -90, showarrow: false,
			font: {family: FONT, size: 39, color: GREEN, weight: 700}
		},
		{
			text: 'Power / TDP [W / %]', xref: 'paper', yref: 'paper', x: 1.004, y: 0.7631,
			xanchor: 'center', yanchor: 'middle', textangle: -90, showarrow: false,
			font: {family: FONT, size: 41, color: ORANGE, weight: 700}
		},
		{
			text: 'čas [s]', xref: 'paper', yref: 'paper', x: 0.9935, y: 0.0012,
			xanchor: 'right', yanchor: 'middle', showarrow: false,
			font: {family: FONT, size: 32, color: '#8c8c8c'}
		},
		{
			text: '<span style="color:#f08a4b">pc</span><span style="color:#3b78c4">tuning</span>',
			xref: 'paper', yref: 'paper', x: 0.9865, y: 0.1774,
			xanchor: 'center', yanchor: 'middle', textangle: -90, showarrow: false,
			opacity: 0.8,
			font: {family: FONT, size: 60, weight: 700}
		}
	]
};

Plotly.newPlot('chart', traces, layout, {staticPlot: true});
</script>
</body>
</html>
